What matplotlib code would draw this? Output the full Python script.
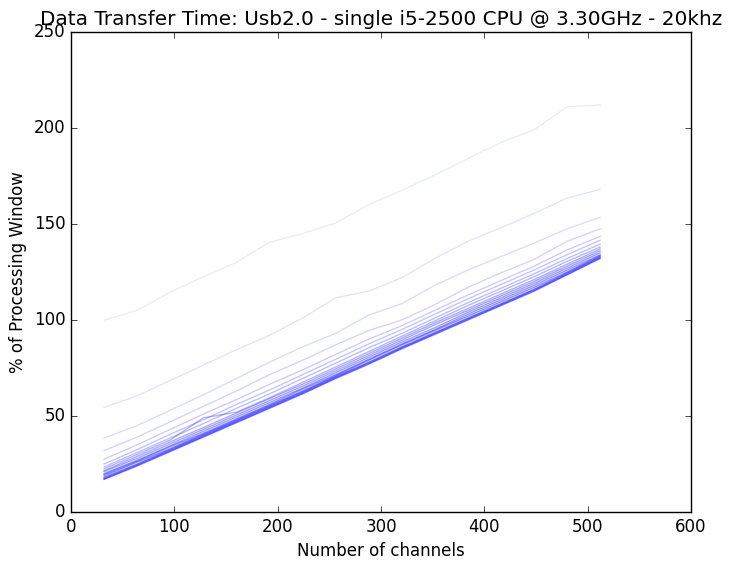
import numpy as np
import matplotlib
matplotlib.use("Agg")
import matplotlib.pyplot as plt

plt.style.use("classic")

channels = [32, 64, 96, 128, 160, 192, 224, 256, 288, 320, 352, 384, 416, 448, 480, 512]

t01 = [100, 105, 114.5, 122.5, 130, 140.5, 145, 150.5, 160, 167.5, 175.5, 184, 192.5, 199, 211, 212]
t02 = [54.5, 60.5, 68.5, 76.5, 84.5, 92, 101, 111.5, 115, 122, 132, 141, 148, 155.5, 163.5, 168]
t03 = [38.5, 45, 53, 61, 69.5, 78, 86, 93, 102.5, 108.5, 118, 126, 133, 140, 147.5, 153.5]
t04 = [32, 39, 47, 55, 63, 71.5, 79, 87, 94.5, 100, 108, 117, 124.5, 131.5, 141, 147.5]
t05 = [27.5, 35, 43, 51, 58.5, 66.5, 74, 82, 90, 97, 105, 113, 120.5, 128, 136.5, 143.5]
t06 = [25, 32.5, 40.5, 48, 56, 63.5, 71.5, 79.5, 87.5, 95, 103, 111, 118.5, 126, 134, 141.5]
t07 = [23.5, 31, 38.5, 46, 54, 61.5, 69.5, 77.5, 85.5, 93, 101, 109, 116.5, 124, 132, 139.5]
t08 = [22.5, 30, 37.5, 49, 52, 59.5, 67.5, 75.5, 83.5, 91.5, 99.5, 107.5, 115, 122.5, 130.5, 138]
t09 = [21.5, 29, 36.5, 44, 51.5, 59, 66.5, 74.5, 82.5, 90.5, 98.5, 106, 113.5, 121, 129, 137]
t10 = [21, 28, 35.5, 43, 50.5, 58, 65.5, 73.5, 81.5, 89.5, 97.5, 105, 112.5, 120, 128, 136]
t11 = [20, 27, 34.5, 42, 49.5, 57, 64.5, 72.5, 80.5, 88.5, 96, 104, 111.5, 119, 127, 135]
t12 = [19.5, 26.5, 34, 41, 48.5, 56, 64, 71.5, 79.5, 87.5, 95, 103, 110.5, 118, 126, 134]
t13 = [18.8, 26, 33, 40.5, 48, 55.5, 63, 71, 79, 87, 94.5, 102, 109.5, 117, 125, 133.5]
t14 = [18, 25, 32.5, 40, 47.5, 55, 62.5, 70.5, 78, 86, 93.5, 101, 108.5, 116, 124.5, 133]
t15 = [17.4, 24.5, 32, 39.5, 47, 54.5, 62, 70, 77.5, 85.5, 93, 100.5, 108, 115.5, 124, 132.5]
t16 = [17, 24, 31.5, 39, 46.5, 54, 61.5, 69.5, 77, 85, 92.5, 100, 107.5, 115, 123.5, 132]

series = [t01, t02, t03, t04, t05, t06, t07, t08, t09, t10, t11, t12, t13, t14, t15, t16]

fig = plt.figure(figsize=(7.35, 5.7), dpi=100, facecolor="white")
ax = fig.add_axes([71 / 735, 58 / 570, 620 / 735, 480 / 570])

for i, s in enumerate(series):
    a = 0.08 + 0.03 * i
    ax.plot(channels, s, color="blue", alpha=a, linewidth=1.0)

ax.set_xlim(0, 600)
ax.set_ylim(0, 250)
ax.set_xlabel("Number of channels")
ax.set_ylabel("% of Processing Window")
ax.set_title("Data Transfer Time: Usb2.0 - single i5-2500 CPU @ 3.30GHz - 20khz")

fig.savefig("out.png", dpi=100, facecolor="white")
